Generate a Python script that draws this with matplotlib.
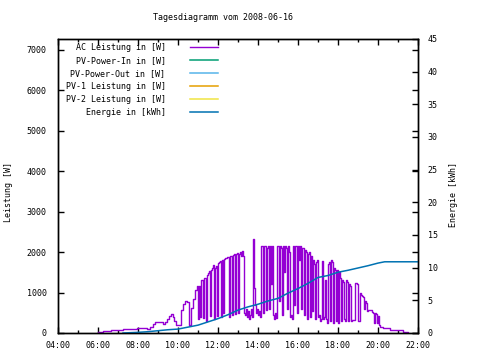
import matplotlib
matplotlib.use("Agg")
import matplotlib.pyplot as plt
from matplotlib.ticker import MultipleLocator, FixedLocator

plt.rcParams['font.family'] = ['DejaVu Sans Mono']
plt.rcParams['font.size'] = 6

# AC power, logger samples (time of day, watts)
ac_time = [
    "06:00", "06:15", "06:39", "07:15", "07:57", "08:27", "08:36", "08:45", "08:51", "09:06",
    "09:15", "09:21", "09:27", "09:33", "09:39", "09:45", "09:48", "09:54", "10:09", "10:15",
    "10:21", "10:27", "10:33", "10:39", "10:45", "10:51", "10:57",
    "11:00", "11:03", "11:06", "11:09", "11:12", "11:15", "11:18", "11:21", "11:24", "11:27",
    "11:30", "11:33", "11:36", "11:39", "11:42", "11:45", "11:48", "11:51", "11:54", "11:57",
    "12:00", "12:03", "12:06", "12:09", "12:12", "12:15", "12:18", "12:21", "12:24", "12:27",
    "12:30", "12:33", "12:36", "12:39", "12:42", "12:45", "12:48", "12:51", "12:54", "12:57",
    "13:00", "13:03", "13:06", "13:09", "13:12", "13:15", "13:18", "13:21", "13:24", "13:27",
    "13:30", "13:33", "13:36", "13:39", "13:42", "13:45", "13:48", "13:51", "13:54", "13:57",
    "14:00", "14:03", "14:06", "14:09", "14:12", "14:15", "14:18", "14:21", "14:24", "14:27",
    "14:30", "14:33", "14:36", "14:39", "14:42", "14:45", "14:48", "14:51", "14:54", "14:57",
    "15:00", "15:03", "15:06", "15:09", "15:12", "15:15", "15:18", "15:21", "15:24", "15:27",
    "15:30", "15:33", "15:36", "15:39", "15:42", "15:45", "15:48", "15:51", "15:54", "15:57",
    "16:00", "16:03", "16:06", "16:09", "16:12", "16:15", "16:18", "16:21", "16:24", "16:27",
    "16:30", "16:33", "16:36", "16:39", "16:42", "16:45", "16:48", "16:51", "16:54", "16:57",
    "17:00", "17:03", "17:06", "17:09", "17:12", "17:15", "17:18", "17:21", "17:24", "17:27",
    "17:30", "17:33", "17:36", "17:39", "17:42", "17:45", "17:48", "17:51", "17:54", "17:57",
    "18:00", "18:03", "18:06", "18:09", "18:12", "18:15", "18:18", "18:21", "18:24", "18:27",
    "18:30", "18:33", "18:36", "18:39", "18:42", "18:45", "18:48", "18:51", "18:54", "18:57",
    "19:00", "19:03", "19:06", "19:09", "19:12", "19:15", "19:18", "19:21", "19:24", "19:27",
    "19:30", "19:33", "19:36", "19:39", "19:42", "19:45", "19:48", "19:51", "19:54", "19:57",
    "20:00", "20:03", "20:06", "20:15", "20:36", "21:15", "21:30",
]
ac_watt = [
    25, 50, 75, 100, 125, 110, 150, 230, 270, 260,
    230, 270, 340, 420, 470, 400, 290, 200, 560, 720,
    800, 760, 200, 620, 850, 1070, 1150,
    350, 1150, 400, 1320, 1320, 380, 1350, 1350, 300, 1420,
    1480, 1530, 420, 1560, 1600, 1690, 350, 1600, 1650, 420,
    1730, 1750, 1780, 400, 1800, 500, 1820, 1850, 1850, 1870,
    1880, 400, 1900, 1900, 450, 1920, 1950, 480, 1950, 1980,
    500, 1960, 2000, 1900, 2030, 1900, 500, 450, 600, 400,
    550, 350, 450, 600, 400, 2330, 1100, 700, 500, 600,
    450, 550, 400, 2140, 2140, 500, 2140, 2140, 580, 2100,
    2140, 600, 2140, 1200, 2140, 450, 350, 500, 380, 2140,
    2140, 800, 2140, 2100, 450, 2140, 1500, 2140, 2100, 600,
    2140, 2000, 400, 450, 350, 2140, 700, 2140, 2140, 500,
    2140, 1800, 2140, 600, 2100, 2100, 450, 2050, 2000, 350,
    1950, 2000, 400, 1900, 550, 1800, 1700, 350, 1750, 1800,
    400, 450, 300, 350, 1770, 350, 400, 1300, 350, 250,
    1700, 1750, 300, 1800, 1750, 250, 1600, 1550, 300, 1550,
    250, 1500, 1350, 300, 1300, 1250, 350, 300, 1320, 1250,
    300, 1200, 1150, 300, 320, 330, 330, 1240, 1240, 1200,
    300, 300, 990, 950, 920, 880, 600, 800, 750, 550,
    580, 580, 560, 560, 530, 500, 250, 500, 480, 250,
    420, 200, 160, 120, 80, 30, 0,
]

# cumulative energy (kWh)
energy_time = ["07:15", "08:00", "08:30", "09:00", "09:30", "10:00", "10:30", "11:00",
               "11:30", "12:00", "12:30", "13:00", "13:30", "14:00", "14:30", "15:00",
               "15:30", "16:00", "16:30", "17:00", "17:30", "18:00", "18:30", "19:00",
               "19:30", "20:00", "20:20", "22:00"]
energy_kwh = [0.0, 0.1, 0.2, 0.35, 0.5, 0.6, 0.9, 1.2,
              1.7, 2.2, 2.8, 3.5, 4.0, 4.4, 4.9, 5.3,
              6.1, 6.8, 7.6, 8.5, 8.8, 9.3, 9.6, 9.95,
              10.3, 10.7, 10.9, 10.9]

series_names = ["AC Leistung in [W]", "PV-Power-In in [W]", "PV-Power-Out in [W]",
                "PV-1 Leistung in [W]", "PV-2 Leistung in [W]", "Energie in [kWh]"]
series_colors = ["#9400d3", "#009e73", "#56b4e9", "#e69f00", "#f0e442", "#0072b2"]

x_ticks = [4, 6, 8, 10, 12, 14, 16, 18, 20, 22]
x_labels = ["04:00", "06:00", "08:00", "10:00", "12:00", "14:00", "16:00", "18:00", "20:00", "22:00"]


def to_hours(t):
    h, m = t.split(":")
    return int(h) + int(m) / 60.0


fig = plt.figure(figsize=(4.8, 3.6), dpi=100)
ax = fig.add_axes([58 / 480, 27 / 360, 360 / 480, 294 / 360])
ax2 = ax.twinx()

ax.plot([to_hours(t) for t in ac_time], ac_watt, drawstyle="steps-post",
        color=series_colors[0], lw=1, label=series_names[0])
for name, col in zip(series_names[1:5], series_colors[1:5]):
    ax.plot([], [], color=col, lw=1.1, label=name)
ax2.plot([to_hours(t) for t in energy_time], energy_kwh,
         color=series_colors[5], lw=1.1, label=series_names[5])

ax.set_xlim(4, 22)
ax.set_ylim(0, 7260)
ax2.set_ylim(0, 45)

ax.xaxis.set_major_locator(FixedLocator(x_ticks))
ax.set_xticklabels(x_labels)
ax.xaxis.set_minor_locator(MultipleLocator(1))
ax.yaxis.set_major_locator(MultipleLocator(1000))
ax2.yaxis.set_major_locator(MultipleLocator(5))

ax.tick_params(axis="x", which="both", direction="in", top=True, pad=5.5)
ax.tick_params(axis="x", which="major", length=4, width=1)
ax.tick_params(axis="x", which="minor", length=2, width=1)
ax.tick_params(axis="y", direction="in", left=True, right=True, length=4, width=1, pad=8)
ax2.tick_params(axis="y", direction="in", length=4, width=1, pad=7)

for a in (ax, ax2):
    for s in a.spines.values():
        s.set_linewidth(1)
        s.set_color("black")

ax.set_ylabel("Leistung [W]")
ax.yaxis.set_label_coords(-0.125, 0.48)
ax2.set_ylabel("Energie [kWh]")
ax2.yaxis.set_label_coords(1.086, 0.47)

fig.text(223 / 480, 1 - 18 / 360, "Tagesdiagramm vom 2008-06-16", ha="center", va="center")

h1, l1 = ax.get_legend_handles_labels()
h2, l2 = ax2.get_legend_handles_labels()
ax2.legend(h1 + h2, l1 + l2, loc="upper right", bbox_to_anchor=(160 / 360, 0.985),
           frameon=False, markerfirst=False, handlelength=3.4, handletextpad=2.9,
           labelspacing=0.48, borderpad=0, borderaxespad=0, fontsize=6)

fig.savefig("out.png", dpi=100)
